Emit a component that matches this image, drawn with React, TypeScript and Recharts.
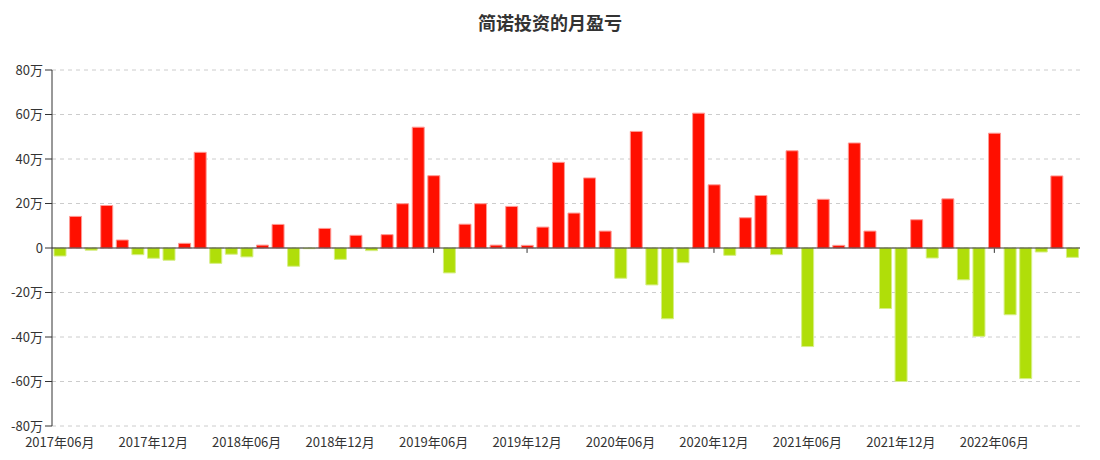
import React from 'react';
import { BarChart, Bar, XAxis, YAxis, CartesianGrid, ReferenceLine, Cell } from 'recharts';

// 月份 2017-06 ~ 2022-11
const months: string[] = [];
for (let y = 2017; y <= 2022; y++) {
  for (let m = 1; m <= 12; m++) {
    if ((y === 2017 && m < 6) || (y === 2022 && m > 11)) continue;
    months.push(`${y}年${String(m).padStart(2, '0')}月`);
  }
}

// 月盈亏，单位：万
const profit = [
  -3.6, 14.2, -1.0, 19.1, 3.6, -3.0, -4.6,
  -5.5, 2.1, 43.0, -6.9, -2.8, -4.0, 1.3, 10.6, -8.2, -0.3, 8.8, -5.1,
  5.7, -1.2, 6.0, 19.9, 54.3, 32.5, -11.2, 10.7, 19.9, 1.3, 18.7, 1.2,
  9.4, 38.5, 15.7, 31.5, 7.6, -13.6, 52.4, -16.6, -31.8, -6.6, 60.6, 28.4,
  -3.3, 13.6, 23.6, -3.0, 43.7, -44.3, 21.9, 1.2, 47.2, 7.6, -27.2, -60.0,
  12.7, -4.5, 22.1, -14.3, -39.7, 51.6, -30.0, -58.7, -1.8, 32.4, -4.2,
];

const yTicks = [-80, -60, -40, -20, 0, 20, 40, 60, 80];
const labelMonths = months.filter((_, i) => i % 6 === 0);

const data = months.map((month, i) => ({ month, value: profit[i] }));

const font = '"Noto Sans CJK SC", "Microsoft YaHei", sans-serif';

export default function App() {
  return (
    <div style={{ width: 1100, height: 460, position: 'relative', background: '#fff', fontFamily: font }}>
      <style>{'body{margin:0}'}</style>
      <div
        style={{
          position: 'absolute', top: 9, left: 0, width: 1100, textAlign: 'center',
          fontSize: 18, fontWeight: 'bold', color: '#333',
        }}
      >
        简诺投资的月盈亏
      </div>
      <BarChart
        width={1100}
        height={460}
        data={data}
        margin={{ top: 70, right: 20, left: 0, bottom: 0 }}
        barSize={12}
      >
        <CartesianGrid vertical={false} stroke="#ccc" strokeDasharray="4 4" />
        <XAxis
          dataKey="month"
          interval={5}
          axisLine={false}
          tickLine={false}
          height={34}
          tickSize={10}
          tick={{ fill: '#333', fontSize: 13, fontFamily: font }}
        />
        <YAxis
          width={52}
          domain={[-80, 80]}
          ticks={yTicks}
          allowDataOverflow
          axisLine={{ stroke: '#333' }}
          tickLine={{ stroke: '#333' }}
          tickSize={7}
          tickFormatter={(v: number) => (v === 0 ? '0' : `${v}万`)}
          tick={{ fill: '#333', fontSize: 13, fontFamily: font }}
        />
        {labelMonths.map((m) => (
          <ReferenceLine
            key={m}
            segment={[{ x: m, y: 0 }, { x: m, y: -2.2 }]}
            stroke="#333"
            zIndex={0}
          />
        ))}
        <Bar dataKey="value" isAnimationActive={false} strokeWidth={1}>
          {data.map((d, i) => (
            <Cell
              key={i}
              fill={d.value >= 0 ? '#ff0f00' : '#b0de09'}
              stroke={d.value >= 0 ? '#ff9a94' : '#d6ee86'}
            />
          ))}
        </Bar>
        <ReferenceLine y={0} stroke="#333" />
      </BarChart>
    </div>
  );
}
